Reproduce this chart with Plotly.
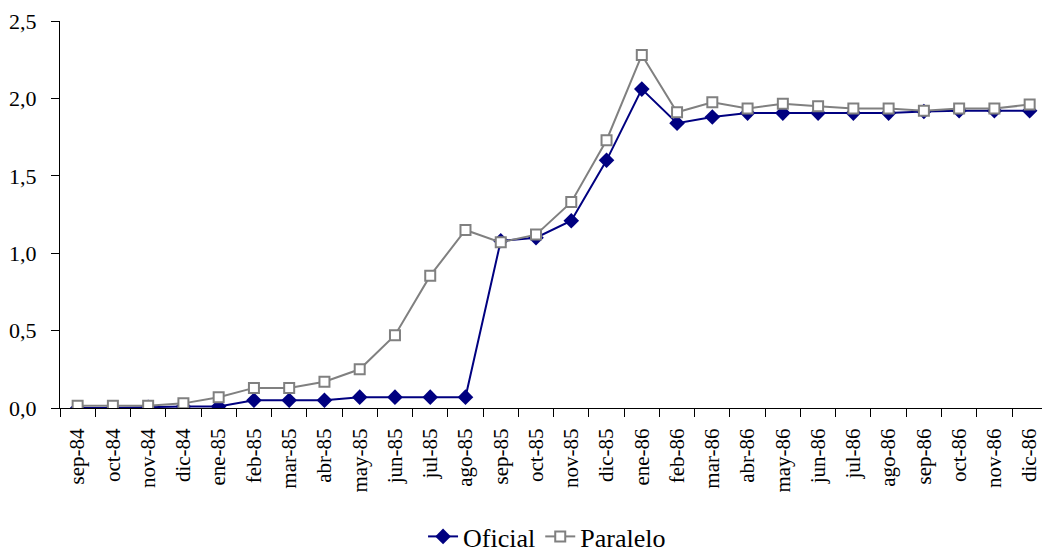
import plotly.graph_objects as go

# Monthly exchange-rate series, Sep 1984 - Dec 1986
meses = ["sep-84", "oct-84", "nov-84", "dic-84", "ene-85", "feb-85", "mar-85",
         "abr-85", "may-85", "jun-85", "jul-85", "ago-85", "sep-85", "oct-85",
         "nov-85", "dic-85", "ene-86", "feb-86", "mar-86", "abr-86", "may-86",
         "jun-86", "jul-86", "ago-86", "sep-86", "oct-86", "nov-86", "dic-86"]

oficial = [0.00, 0.00, 0.005, 0.01, 0.01, 0.05, 0.05, 0.05, 0.07, 0.07, 0.07,
           0.07, 1.08, 1.10, 1.21, 1.60, 2.06, 1.84, 1.88, 1.905, 1.905, 1.905,
           1.905, 1.905, 1.915, 1.92, 1.92, 1.92]

paralelo = [0.015, 0.015, 0.015, 0.03, 0.07, 0.13, 0.13, 0.17, 0.25, 0.47,
            0.855, 1.15, 1.07, 1.12, 1.33, 1.73, 2.28, 1.91, 1.975, 1.935,
            1.965, 1.95, 1.935, 1.935, 1.92, 1.935, 1.935, 1.96]

y_ticks = [0.0, 0.5, 1.0, 1.5, 2.0, 2.5]

FONT = "Liberation Serif"

fig = go.Figure()
fig.add_trace(go.Scatter(
    x=meses, y=oficial, name="Oficial", mode="lines+markers",
    line=dict(color="#000080", width=2),
    marker=dict(symbol="diamond", size=12, color="#000080"),
))
fig.add_trace(go.Scatter(
    x=meses, y=paralelo, name="Paralelo", mode="lines+markers",
    line=dict(color="#808080", width=2),
    marker=dict(symbol="square", size=10, color="white",
                line=dict(color="#808080", width=2)),
))

fig.update_layout(
    width=1042, height=560,
    margin=dict(l=60, r=0, t=21, b=152),
    paper_bgcolor="white", plot_bgcolor="white",
    separators=",.",
    font=dict(family=FONT, color="black", size=22),
    showlegend=True,
    legend=dict(orientation="h", xref="container", yref="container",
                x=0.525, xanchor="center", y=-0.02, yanchor="bottom",
                font=dict(size=26, family=FONT, color="black"),
                traceorder="normal"),
    xaxis=dict(
        type="category", range=[-0.5, 27.35],
        showline=True, linecolor="black", linewidth=1,
        ticks="outside", ticklen=8, tickcolor="black",
        tickson="boundaries", tickangle=-90, showgrid=False,
        automargin=False, ticklabelstandoff=11,
        tickfont=dict(size=21, family=FONT, color="black"),
    ),
    yaxis=dict(
        range=[0, 2.5], tickvals=y_ticks, tickformat=".1f",
        showline=True, linecolor="black", linewidth=1,
        ticks="outside", ticklen=8, tickcolor="black",
        showgrid=False, zeroline=False, automargin=False,
        ticklabelstandoff=10,
        tickfont=dict(size=22, family=FONT, color="black"),
    ),
)

fig.write_html("out.html")
